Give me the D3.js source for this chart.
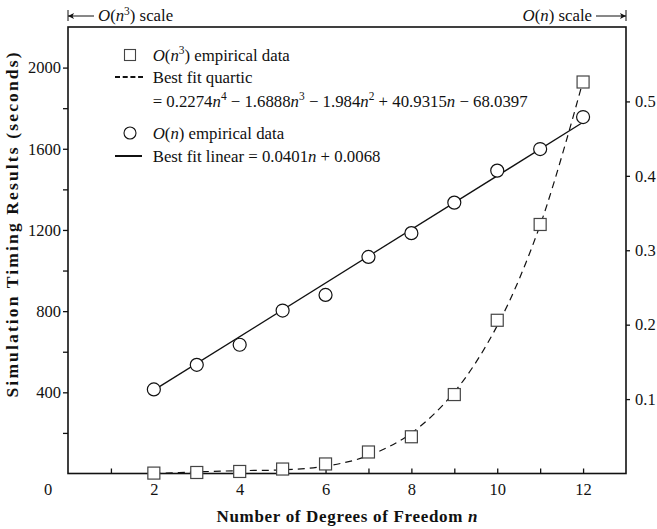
<!DOCTYPE html>
<html>
<head>
<meta charset="utf-8">
<script src="https://cdn.jsdelivr.net/npm/d3@7/dist/d3.min.js"></script>
<style>
  body { margin: 0; background: #fff; }
</style>
</head>
<body>
<svg id="chart" width="657" height="529" font-family="Liberation Serif"></svg>
<script>
// degrees of freedom
const nValues = [2, 3, 4, 5, 6, 7, 8, 9, 10, 11, 12];
// O(n^3) timings, left scale (seconds)
const cubicTimes = [2, 5, 10, 22, 47, 106, 181, 389, 755, 1227, 1929];
// dashed quartic fit at each n
const quarticFit = [0, 8, 14, 18, 36, 88, 199, 401, 728, 1224, 1935];
// O(n) timings, right scale (seconds)
const linearTimes = [0.113, 0.146, 0.173, 0.219, 0.240, 0.291, 0.323, 0.364, 0.407, 0.436, 0.479];
// straight fit line ends
const linearFitN = [2, 12];
const linearFitT = [0.112, 0.472];

const leftLabelTicks = [400, 800, 1200, 1600, 2000];
const leftMinorTicks = [200, 600, 1000, 1400, 1800];
const rightTicks = [0.1, 0.2, 0.3, 0.4, 0.5];
const bottomTicks = [1, 2, 3, 4, 5, 6, 7, 8, 9, 10, 11, 12];
const bottomLabels = [2, 4, 6, 8, 10, 12];

const fs = 16.5;   // tick labels
const lfs = 16.8;  // legend + headers
const serif = "Liberation Serif";
const pLeft = 68, pRight = 626, pTop = 27, pBottom = 473.5;

const svg = d3.select("#chart");

const x = d3.scaleLinear().domain([0, 13]).range([pLeft, pRight]);
const yL = d3.scaleLinear().domain([0, 2200]).range([pBottom, pTop]);
const yR = d3.scaleLinear().domain([0, 0.6]).range([pBottom, pTop]);

// plain text with the serif face set right on it
function txt(parent, px, py) {
    return parent.append("text").attr("x", px).attr("y", py)
        .attr("font-family", serif).attr("fill", "#111");
}

// rich text helper: segments of {t, i (italic), sup}
function rich(sel, segs, size) {
    let up = false;
    segs.forEach(function (s) {
        let ts = sel.append("tspan").text(s.t).attr("font-family", serif);
        if (s.i) ts.attr("font-style", "italic");
        if (s.sup) {
            ts.attr("font-size", size * 0.68).attr("dy", up ? 0 : -size * 0.38);
            up = true;
        } else {
            ts.attr("font-size", size);
            if (up) { ts.attr("dy", size * 0.38); up = false; }
        }
    });
}

//------------------------ axes --------------------------
let axL = svg.append("g")
    .attr("transform", "translate(" + pLeft + ",0)")
    .call(d3.axisLeft(yL)
        .tickValues(leftLabelTicks.concat(leftMinorTicks))
        .tickSize(5).tickPadding(2)
        .tickFormat(function (d) { return leftLabelTicks.indexOf(d) >= 0 ? d : ""; }));

let axR = svg.append("g")
    .attr("transform", "translate(" + pRight + ",0)")
    .call(d3.axisRight(yR).tickValues(rightTicks).tickSize(4).tickPadding(5)
        .tickFormat(d3.format(".1f")));

let axB = svg.append("g")
    .attr("transform", "translate(0," + pBottom + ")")
    .call(d3.axisBottom(x).tickValues(bottomTicks).tickSizeInner(-5).tickSizeOuter(0).tickPadding(10)
        .tickFormat(function (d) { return bottomLabels.indexOf(d) >= 0 ? d : ""; }));

[axL, axR, axB].forEach(function (a) {
    a.attr("font-family", serif).attr("font-size", fs);
    a.select(".domain").remove();
    a.selectAll(".tick line").attr("stroke", "#111").attr("stroke-width", 1.3);
    a.selectAll(".tick text").attr("font-size", fs)
        .attr("font-family", serif).attr("fill", "#111");
});

// frame
svg.append("rect")
    .attr("x", pLeft).attr("y", pTop)
    .attr("width", pRight - pLeft).attr("height", pBottom - pTop)
    .attr("fill", "none").attr("stroke", "#111").attr("stroke-width", 1.6);

// origin label
txt(svg, 48, 495).attr("text-anchor", "middle").attr("font-size", fs).text("0");

// axis titles (the original uses a wide bold face, so stretch spacing to its length)
svg.append("text")
    .attr("transform", "translate(18,225) rotate(-90)")
    .attr("font-family", serif).attr("fill", "#111")
    .attr("text-anchor", "middle").attr("font-weight", "bold").attr("font-size", 17.5)
    .attr("textLength", 345).attr("lengthAdjust", "spacing")
    .text("Simulation Timing Results (seconds)");

let xt = txt(svg, 347, 522).attr("text-anchor", "middle").attr("font-weight", "bold")
    .attr("textLength", 261).attr("lengthAdjust", "spacing");
rich(xt, [{ t: "Number of Degrees of Freedom " }, { t: "n", i: true }], 17);

//------------------------ scale headers -----------------
const hy = 16;
svg.append("line").attr("x1", pLeft).attr("x2", pLeft).attr("y1", hy - 6).attr("y2", hy + 5)
    .attr("stroke", "#111").attr("stroke-width", 1);
svg.append("line").attr("x1", pLeft).attr("x2", 94).attr("y1", hy).attr("y2", hy)
    .attr("stroke", "#111").attr("stroke-width", 1);
svg.append("path").attr("d", "M" + pLeft + "," + hy + "l6,-3l-1.5,3l1.5,3z").attr("fill", "#111");
let hl = txt(svg, 98, hy + 5);
rich(hl, [{ t: "O", i: true }, { t: "(" }, { t: "n", i: true }, { t: "3", sup: true }, { t: ") scale" }], lfs);

svg.append("line").attr("x1", pRight).attr("x2", pRight).attr("y1", hy - 6).attr("y2", hy + 5)
    .attr("stroke", "#111").attr("stroke-width", 1);
svg.append("line").attr("x1", 596).attr("x2", pRight).attr("y1", hy).attr("y2", hy)
    .attr("stroke", "#111").attr("stroke-width", 1);
svg.append("path").attr("d", "M" + pRight + "," + hy + "l-6,-3l1.5,3l-1.5,3z").attr("fill", "#111");
let hr = txt(svg, 592, hy + 5).attr("text-anchor", "end");
rich(hr, [{ t: "O", i: true }, { t: "(" }, { t: "n", i: true }, { t: ") scale" }], lfs);

//------------------------ data ---------------------------
const plot = svg.append("g");

let quartLine = d3.line()
    .x(function (d, i) { return x(nValues[i]); })
    .y(function (d) { return yL(d); })
    .curve(d3.curveCatmullRom);
plot.append("path").datum(quarticFit)
    .attr("d", quartLine)
    .attr("fill", "none").attr("stroke", "#111").attr("stroke-width", 1.2)
    .attr("stroke-dasharray", "7,5");

let linLine = d3.line()
    .x(function (d, i) { return x(linearFitN[i]); })
    .y(function (d) { return yR(d); });
plot.append("path").datum(linearFitT)
    .attr("d", linLine)
    .attr("fill", "none").attr("stroke", "#111").attr("stroke-width", 1.3);

const sq = 12;
plot.selectAll(".sq").data(cubicTimes).enter().append("rect")
    .attr("class", "sq")
    .attr("x", function (d, i) { return x(nValues[i]) - sq / 2; })
    .attr("y", function (d) { return yL(d) - sq / 2; })
    .attr("width", sq).attr("height", sq)
    .attr("fill", "#fff").attr("stroke", "#444").attr("stroke-width", 1.2);

plot.selectAll(".ci").data(linearTimes).enter().append("circle")
    .attr("class", "ci")
    .attr("cx", function (d, i) { return x(nValues[i]); })
    .attr("cy", function (d) { return yR(d); })
    .attr("r", 6.5)
    .attr("fill", "#fff").attr("stroke", "#111").attr("stroke-width", 1.2);

//------------------------ legend -------------------------
const lg = svg.append("g");
const tx = 152.7;
lg.append("rect").attr("x", 130 - 5.5).attr("y", 55 - 5.5).attr("width", 11).attr("height", 11)
    .attr("fill", "#fff").attr("stroke", "#444").attr("stroke-width", 1.1);
let l1 = txt(lg, tx, 55 + 5.5);
rich(l1, [{ t: "O", i: true }, { t: "(" }, { t: "n", i: true }, { t: "3", sup: true }, { t: ") empirical data" }], lfs);

lg.append("line").attr("x1", 115).attr("x2", 143).attr("y1", 77).attr("y2", 77)
    .attr("stroke", "#111").attr("stroke-width", 2).attr("stroke-dasharray", "5,2.7");
txt(lg, tx, 77 + 5.5).attr("font-size", lfs).text("Best fit quartic");

let l3 = txt(lg, tx, 101 + 5.5);
rich(l3, [{ t: "= 0.2274" }, { t: "n", i: true }, { t: "4", sup: true },
    { t: " \u2212 1.6888" }, { t: "n", i: true }, { t: "3", sup: true },
    { t: " \u2212 1.984" }, { t: "n", i: true }, { t: "2", sup: true },
    { t: " + 40.9315" }, { t: "n", i: true }, { t: " \u2212 68.0397" }], lfs);

lg.append("circle").attr("cx", 130).attr("cy", 133).attr("r", 6)
    .attr("fill", "#fff").attr("stroke", "#111").attr("stroke-width", 1.1);
let l4 = txt(lg, tx, 133 + 5.5);
rich(l4, [{ t: "O", i: true }, { t: "(" }, { t: "n", i: true }, { t: ") empirical data" }], lfs);

lg.append("line").attr("x1", 115).attr("x2", 142).attr("y1", 156).attr("y2", 156)
    .attr("stroke", "#111").attr("stroke-width", 2);
let l5 = txt(lg, tx, 156 + 5.5);
rich(l5, [{ t: "Best fit linear = 0.0401" }, { t: "n", i: true }, { t: " + 0.0068" }], lfs);
</script>
</body>
</html>
